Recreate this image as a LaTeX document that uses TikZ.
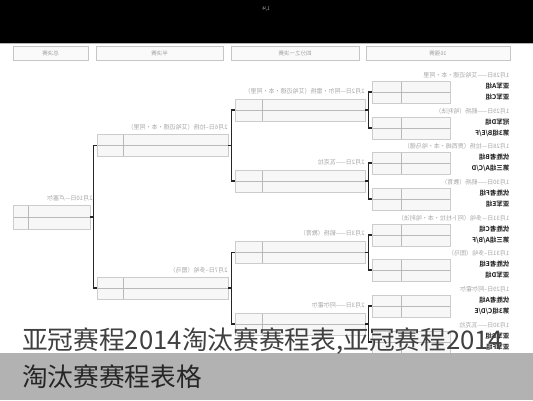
\documentclass[tikz,border=0pt]{standalone}
\usepackage{fontspec}
\setmainfont{Noto Sans CJK SC}[BoldFont={Noto Sans CJK SC Bold}]
\usepackage{graphicx}
\usetikzlibrary{calc}
\newcommand{\rfl}[1]{\reflectbox{#1}}

\begin{document}
\begin{tikzpicture}[x=1pt,y=-1pt]
\tikzset{
	slot/.style={draw=gray!40,
		fill=gray!6,
		line width=0.5pt,
		inner sep=0pt,
		minimum height=22pt,
		path picture={
			\draw[gray!55] (path picture bounding box.west) -- (path picture bounding box.east);
			\draw[gray!55] ([xshift=#1]path picture bounding box.north west) -- ([xshift=#1]path picture bounding box.south west);
		}},
	hdr/.style={draw=gray!45, fill=gray!4, minimum height=14pt, inner sep=0pt,
		font=\fontsize{5.5}{6}\selectfont, text=gray!75},
	datetxt/.style={font=\fontsize{6}{7}\selectfont, text=gray!70, inner sep=0.5pt, anchor=east},
	team/.style={font=\fontsize{6.5}{7}\selectfont\bfseries, text=black!90, inner sep=0.5pt, anchor=east},
	bracket/.style={line width=1.3pt, draw=black!85},
	caption/.style={font=\fontsize{25.7}{27}\selectfont, anchor=west, inner sep=0pt}
}
\useasboundingbox (0,0) rectangle (533,400);
\fill[white] (0,0) rectangle (533,400);

% page bar
\fill[black] (0,0) rectangle (533,43);
\draw[gray!60] (0,43.5) -- (533,43.5);
\node[text=gray!70, font=\fontsize{5}{6}\selectfont] (PAGE) at (266,9) {\rfl{1/4}};

% column heads
\node[hdr, minimum width=75pt] (HDF) at (50.5,53) {\rfl{总决赛}};
\node[hdr, minimum width=127pt] (HDS) at (159.5,53) {\rfl{半决赛}};
\node[hdr, minimum width=128pt] (HDQ) at (295,53) {\rfl{四分之一决赛}};
\node[hdr, minimum width=144pt] (HDR) at (438,53) {\rfl{16强赛}};

% round of 16
\node[slot=29pt, minimum width=78pt] (R16A) at (411,92) {};
\node[slot=29pt, minimum width=78pt] (R16B) at (411,128) {};
\node[slot=29pt, minimum width=78pt] (R16C) at (411,163) {};
\node[slot=29pt, minimum width=78pt] (R16D) at (411,199) {};
\node[slot=29pt, minimum width=78pt] (R16E) at (411,235) {};
\node[slot=29pt, minimum width=78pt] (R16F) at (411,270) {};
\node[slot=29pt, minimum width=78pt] (R16G) at (411,306) {};
\node[slot=29pt, minimum width=78pt] (R16H) at (411,342) {};

\node[datetxt] (D16A) at (510,75) {\rfl{1月28日——艾哈迈德·本·阿里}};
\node[team] (T16A1) at (510,86) {\rfl{亚军A组}};
\node[team] (T16A2) at (510,97) {\rfl{亚军C组}};
\node[datetxt] (D16B) at (510,111) {\rfl{1月29日——鹤扬（哈利法）}};
\node[team] (T16B1) at (510,122) {\rfl{冠军D组}};
\node[team] (T16B2) at (510,133) {\rfl{第3组B/E/F}};
\node[datetxt] (D16C) at (510,146) {\rfl{1月28日—拉扬（贾西姆·本·哈马德）}};
\node[team] (T16C1) at (510,157) {\rfl{优胜者B组}};
\node[team] (T16C2) at (510,168) {\rfl{第三组A/C/D}};
\node[datetxt] (D16D) at (510,182) {\rfl{1月30日——鹤扬（教育）}};
\node[team] (T16D1) at (510,193) {\rfl{优胜者F组}};
\node[team] (T16D2) at (510,204) {\rfl{亚军E组}};
\node[datetxt] (D16E) at (510,218) {\rfl{1月31日—多哈（阿卜杜拉·本·哈利法）}};
\node[team] (T16E1) at (510,229) {\rfl{优胜者C组}};
\node[team] (T16E2) at (510,240) {\rfl{第三组A/B/F}};
\node[datetxt] (D16F) at (510,253) {\rfl{1月31日–多哈（图马）}};
\node[team] (T16F1) at (510,264) {\rfl{优胜者E组}};
\node[team] (T16F2) at (510,275) {\rfl{亚军D组}};
\node[datetxt] (D16G) at (510,289) {\rfl{1月29日–阿尔霍尔}};
\node[team] (T16G1) at (510,300) {\rfl{优胜者A组}};
\node[team] (T16G2) at (510,311) {\rfl{第3组C/D/E}};
\node[datetxt] (D16H) at (510,325) {\rfl{1月30日——瓦克拉}};
\node[team] (T16H1) at (510,336) {\rfl{亚军B组}};
\node[team] (T16H2) at (510,347) {\rfl{亚军F组}};

% quarter finals
\node[slot=27pt, minimum width=130pt] (QFA) at (300,110) {};
\node[slot=27pt, minimum width=130pt] (QFB) at (300,181) {};
\node[slot=27pt, minimum width=130pt] (QFC) at (300,252.5) {};
\node[slot=27pt, minimum width=130pt] (QFD) at (300,324) {};
\node[datetxt] (DQFA) at ([yshift=8pt]QFA.north east) {\rfl{2月2日—阿尔·雷扬（艾哈迈德·本·阿里）}};
\node[datetxt] (DQFB) at ([yshift=8pt]QFB.north east) {\rfl{2月2日——瓦克拉}};
\node[datetxt] (DQFC) at ([yshift=8pt]QFC.north east) {\rfl{2月3日——鹤扬（教育）}};
\node[datetxt] (DQFD) at ([yshift=8pt]QFD.north east) {\rfl{2月3日——阿尔霍尔}};

% semi finals and final
\node[slot=26pt, minimum width=131pt] (SFA) at (162.5,145.5) {};
\node[slot=26pt, minimum width=131pt] (SFB) at (162.5,288) {};
\node[datetxt] (DSFA) at ([yshift=7pt]SFA.north east) {\rfl{2月6日–拉扬（艾哈迈德·本·阿里）}};
\node[datetxt] (DSFB) at ([yshift=7pt]SFB.north east) {\rfl{2月7日–多哈（图马）}};
\node[slot=15pt, minimum width=77pt, minimum height=24pt] (FIN) at (51.5,217) {};
\node[datetxt] (DFIN) at ([xshift=3pt,yshift=7pt]FIN.north east) {\rfl{2月10日—卢塞尔}};

% brackets
{\draw[bracket] (R16A.west) -- ++(-3,0) |- (R16B.west);}
{\draw[bracket] (R16C.west) -- ++(-3,0) |- (R16D.west);}
{\draw[bracket] (R16E.west) -- ++(-3,0) |- (R16F.west);}
{\draw[bracket] (R16G.west) -- ++(-3,0) |- (R16H.west);}
{\draw[bracket] (QFA.east) -- ++(4,0);}
{\draw[bracket] (QFB.east) -- ++(4,0);}
{\draw[bracket] (QFC.east) -- ++(4,0);}
{\draw[bracket] (QFD.east) -- ++(4,0);}
{\draw[bracket] (QFA.west) -- ++(-3,0) |- (QFB.west);}
{\draw[bracket] (QFC.west) -- ++(-3,0) |- (QFD.west);}
{\draw[bracket] (SFA.east) -- ++(4,0);}
{\draw[bracket] (SFB.east) -- ++(4,0);}
{\draw[bracket] (SFA.west) -- ++(-3,0) |- (SFB.west);}
{\draw[bracket] (FIN.east) -- ++(4,0);}

% caption
\fill[gray!80!black!50] (0,353) rectangle (533,400);
\node[caption, text=black!75] (CAPA) at (22,341) {亚冠赛程2014淘汰赛赛程表,亚冠赛程2014};
\node[caption, text=black!85] (CAPB) at (22,377) {淘汰赛赛程表格};
\end{tikzpicture}
\end{document}
